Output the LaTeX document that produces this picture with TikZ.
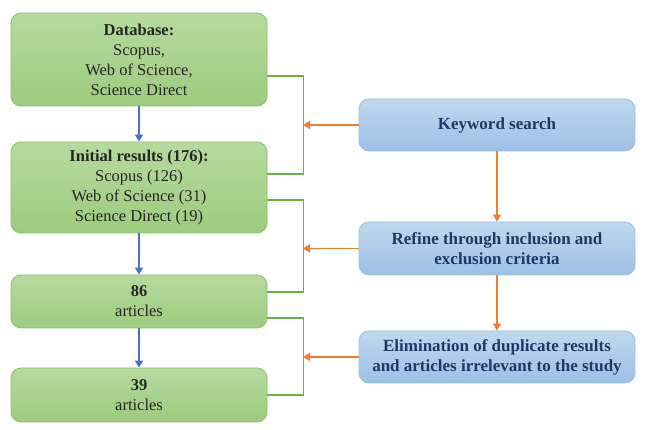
\documentclass[tikz,border=0pt]{standalone}
\usepackage{fontspec}
\setmainfont{Liberation Serif}
\usetikzlibrary{arrows.meta,calc}
\definecolor{gfillA}{HTML}{B6DA9E}
\definecolor{gfillB}{HTML}{9DCB7E}
\definecolor{gline}{HTML}{8CBF6C}
\definecolor{gbr}{HTML}{70AD47}
\definecolor{bfillA}{HTML}{C0D8EF}
\definecolor{bfillB}{HTML}{9CC0E5}
\definecolor{bline}{HTML}{9DBFE2}
\definecolor{navy}{HTML}{1F3864}
\definecolor{orangeA}{HTML}{ED7D31}
\definecolor{blueA}{HTML}{4472C4}
\tikzset{
  gbox/.style={draw=gline, line width=0.8pt, rounded corners=10pt, top color=gfillA, bottom color=gfillB,
    minimum width=256pt, align=center, inner sep=0pt, text=black!85, font=\fontsize{16.5}{20}\selectfont},
  bbox/.style={draw=bline, line width=0.8pt, rounded corners=10pt, top color=bfillA, bottom color=bfillB,
    minimum width=276pt, minimum height=52pt, align=center, inner sep=0pt, text=navy,
    font=\bfseries\fontsize{17}{20}\selectfont},
  barrow/.style={draw=blueA, line width=1.8pt, -{Triangle[length=7pt,width=8pt]}},
  oarrow/.style={draw=orangeA, line width=1.8pt, -{Triangle[length=7pt,width=8pt]}},
  brack/.style={draw=gbr, line width=1.8pt}
}
\begin{document}
\begin{tikzpicture}[x=1pt,y=-1pt]
\useasboundingbox (0,0) rectangle (646,430);
\node[gbox, minimum height=93pt] (b1) at (139,59.5) {\textbf{Database:}\\Scopus,\\Web of Science,\\Science Direct};
\node[gbox, minimum height=91pt] (b2) at (139,187.5) {\textbf{Initial results (176):}\\Scopus (126)\\Web of Science (31)\\Science Direct (19)};
\node[gbox, minimum height=53pt] (b3) at (139,301.5) {\textbf{86}\\articles};
\node[gbox, minimum height=54pt] (b4) at (139,395) {\textbf{39}\\articles};
\node[bbox] (kw) at (497,125) {Keyword search};
\node[bbox, minimum height=53pt] (rf) at (497,248.5) {Refine through inclusion and\\exclusion criteria};
\node[bbox] (el) at (497,357) {Elimination of duplicate results\\and articles irrelevant to the study};
\draw[barrow] (b1) -- (b2);
\draw[barrow] (b2) -- (b3);
\draw[barrow] (b3) -- (b4);
\draw[oarrow] (kw) -- (rf);
\draw[oarrow] (rf) -- (el);
% brackets
\coordinate (t1) at (b1.east |- 0,76);
\coordinate (u1) at (b2.east |- 0,174);
\coordinate (c1) at (303,125);
\draw[brack] (t1) -- ++(36,0) |- (u1);
\coordinate (t2) at (b2.east |- 0,200);
\coordinate (u2) at (b3.east |- 0,292);
\coordinate (c2) at (303,248.5);
\draw[brack] (t2) -- ++(36,0) |- (u2);
\coordinate (t3) at (b3.east |- 0,318);
\coordinate (u3) at (b4.east |- 0,395);
\coordinate (c3) at (303,357);
\draw[brack] (t3) -- ++(36,0) |- (u3);
\draw[oarrow] (kw.west) -- (c1);
\draw[oarrow] (rf.west) -- (c2);
\draw[oarrow] (el.west) -- (c3);
\end{tikzpicture}
\end{document}
